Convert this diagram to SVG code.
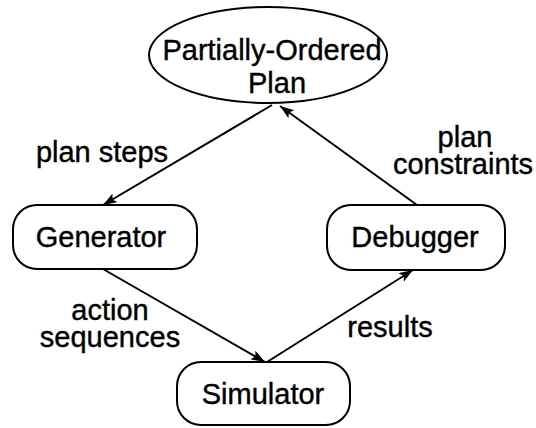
<svg xmlns="http://www.w3.org/2000/svg" width="536" height="428" viewBox="0 0 536 428">
<style>
  .node { fill: #fff; stroke: #000; stroke-width: 2; }
  .lbl { font-family: "Liberation Sans", Arial, sans-serif; font-size: 29px; fill: #000; stroke: #000; stroke-width: 0.4; text-anchor: middle; }
  .edge { stroke: #000; stroke-width: 2; fill: none; marker-end: url(#arr); }
</style>
<defs>
  <marker id="arr" markerUnits="userSpaceOnUse" markerWidth="16" markerHeight="12" refX="14" refY="5" orient="auto">
    <path d="M0,0 L14,5 L0,10 L3,5 z" fill="#000"/>
  </marker>
</defs>
<rect width="536" height="428" fill="#fff"/>
<g id="connectors">
  <line class="edge" x1="272" y1="105" x2="103" y2="205"/>
  <line class="edge" x1="417" y1="205" x2="280" y2="106"/>
  <line class="edge" x1="103" y1="269" x2="265" y2="362"/>
  <line class="edge" x1="267" y1="362" x2="413" y2="270"/>
</g>
<g id="plan">
  <ellipse class="node" cx="268" cy="55" rx="119" ry="48"/>
  <text class="lbl"><tspan x="272" y="60">Partially-Ordered</tspan><tspan x="277" y="93">Plan</tspan></text>
</g>
<g id="generator">
  <rect class="node" x="13" y="205" width="184" height="64" rx="24"/>
  <text class="lbl" x="101" y="247">Generator</text>
</g>
<g id="debugger">
  <rect class="node" x="327" y="205" width="178" height="65" rx="24"/>
  <text class="lbl" x="415" y="247">Debugger</text>
</g>
<g id="simulator">
  <rect class="node" x="177" y="362" width="173" height="63" rx="24"/>
  <text class="lbl" x="263" y="404">Simulator</text>
</g>
<g id="labels">
  <text class="lbl" x="102" y="162">plan steps</text>
  <text class="lbl"><tspan x="465" y="147">plan</tspan><tspan x="463" y="174">constraints</tspan></text>
  <text class="lbl"><tspan x="110" y="320">action</tspan><tspan x="110" y="347">sequences</tspan></text>
  <text class="lbl" x="390" y="337">results</text>
</g>
</svg>
